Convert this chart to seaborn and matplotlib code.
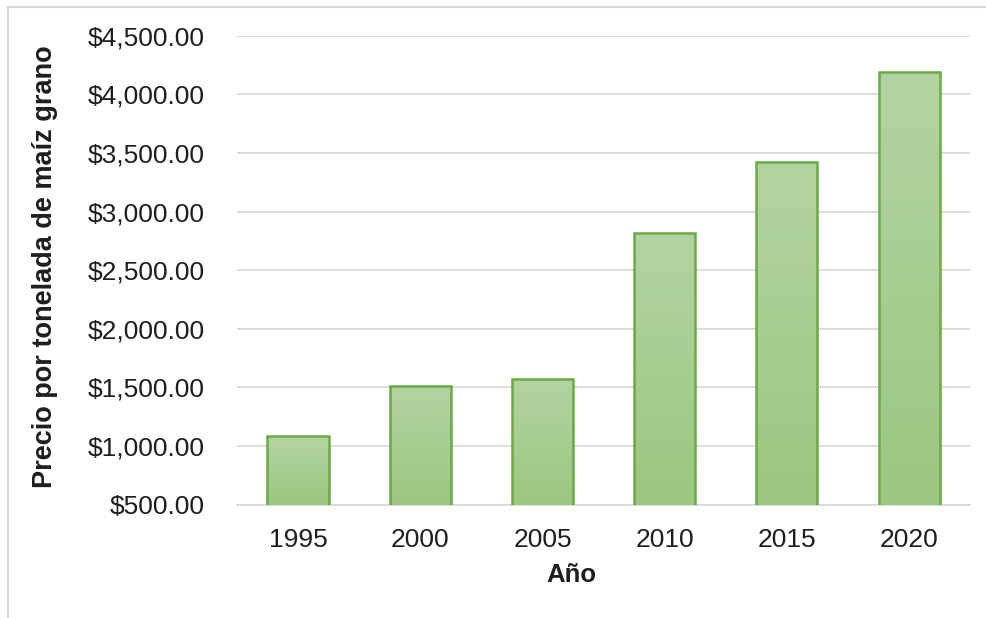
import numpy as np
import pandas as pd
import matplotlib
matplotlib.use("Agg")
import matplotlib.pyplot as plt
from matplotlib.patches import Rectangle
from matplotlib.ticker import FuncFormatter, MultipleLocator
import seaborn as sns

# Data
years = ["1995", "2000", "2005", "2010", "2015", "2020"]
prices = [1090, 1510, 1575, 2818, 3420, 4190]

df = pd.DataFrame({"Año": years, "Precio": prices})

sns.set_theme(style="white")
plt.rcParams["font.family"] = ["Liberation Sans", "DejaVu Sans"]

fig = plt.figure(figsize=(9.87, 6.18), dpi=100)
ax = fig.add_axes([0.240, 0.1833, 0.743, 0.7589])

sns.barplot(data=df, x="Año", y="Precio", order=years, ax=ax, width=0.5,
            color="#A8D08D", edgecolor="#6AAA45", linewidth=1.8, zorder=3)

ymin, ymax = 500, 4500

# vertical gradient fill inside every bar
grad = np.linspace(0, 1, 256).reshape(-1, 1)
top_c = np.array([179, 212, 162]) / 255
bot_c = np.array([155, 199, 128]) / 255
img = bot_c[None, None, :] * (1 - grad[..., None]) + top_c[None, None, :] * grad[..., None]
for p in ax.patches:
    x0 = p.get_x()
    w = p.get_width()
    y0 = max(p.get_y(), ymin)
    y1 = p.get_y() + p.get_height()
    im = ax.imshow(img, extent=[x0, x0 + w, y0, y1], origin="lower",
                   aspect="auto", zorder=3.5, interpolation="bicubic")
    im.set_clip_path(p)
    p.set_facecolor("none")
    p.set_zorder(4)
ax.set_xlim(-0.5, len(years) - 0.5)
ax.set_ylim(ymin, ymax)

ax.yaxis.set_major_locator(MultipleLocator(500))
ax.yaxis.set_major_formatter(FuncFormatter(lambda v, _: f"${v:,.2f}"))
ax.grid(axis="y", color="#D9D9D9", linewidth=1.3, zorder=0)
ax.grid(axis="x", visible=False)
ax.set_axisbelow(True)
for s in ["top", "right", "left"]:
    ax.spines[s].set_visible(False)
ax.spines["bottom"].set_color("#D9D9D9")
ax.spines["bottom"].set_linewidth(1.3)

ax.tick_params(axis="both", length=0, labelsize=19, colors="#1e1e1e")
ax.tick_params(axis="y", pad=23)
ax.tick_params(axis="x", pad=17)

ax.set_xlabel("Año", fontsize=18.5, fontweight="bold", color="#1e1e1e")
ax.xaxis.set_label_coords(0.4557, -0.125)
ax.set_ylabel("Precio por tonelada de maíz grano", fontsize=19.5, fontweight="bold",
              color="#1e1e1e")
ax.yaxis.set_label_coords(-0.244, 0.508)

# light chart-area frame
fig.patches.append(Rectangle((8 / 987, -0.2), 1.2, 1.2 - 7 / 618,
                             transform=fig.transFigure, fill=False,
                             edgecolor="#D9D9D9", linewidth=1.5))

fig.savefig("out.png", dpi=100, facecolor="white")
